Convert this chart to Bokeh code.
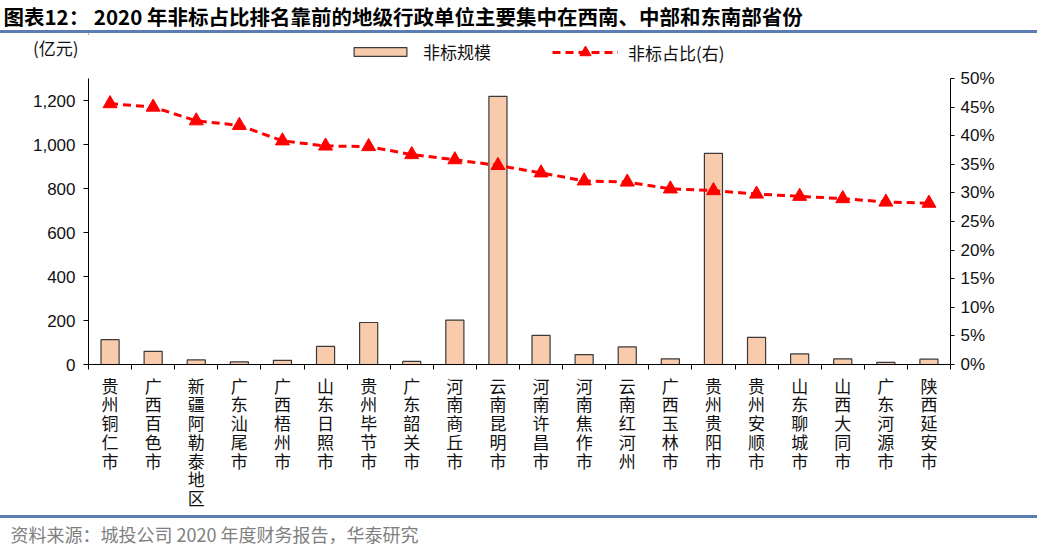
from bokeh.plotting import figure
from bokeh.layouts import column
from bokeh.models import (Range1d, LinearAxis, SingleIntervalTicker, FixedTicker,
                          NumeralTickFormatter, PrintfTickFormatter, Legend, LegendItem,
                          ColumnDataSource, Spacer)
from bokeh.embed import file_html
from bokeh.resources import INLINE

cities = ["贵州铜仁市", "广西百色市", "新疆阿勒泰地区", "广东汕尾市", "广西梧州市",
          "山东日照市", "贵州毕节市", "广东韶关市", "河南商丘市", "云南昆明市",
          "河南许昌市", "河南焦作市", "云南红河州", "广西玉林市", "贵州贵阳市",
          "贵州安顺市", "山东聊城市", "山西大同市", "广东河源市", "陕西延安市"]
scale = [113, 60, 21, 12, 19, 82, 191, 14, 202, 1219,
         132, 45, 80, 26, 960, 123, 48, 26, 10, 24]
ratio = [45.6, 45.0, 42.6, 41.8, 39.1, 38.2, 38.1, 36.7, 35.8, 34.8,
         33.5, 32.1, 31.9, 30.7, 30.4, 29.8, 29.4, 29.0, 28.4, 28.2]
left_ticks_interval = 200
right_ticks_interval = 5

TITLE = "图表12： 2020 年非标占比排名靠前的地级行政单位主要集中在西南、中部和东南部省份"
SOURCE = "资料来源：城投公司 2020 年度财务报告，华泰研究"
UNIT = "(亿元)"
SERIES = ["非标规模", "非标占比(右)"]

FONT = "Noto Sans CJK SC"
NUMF = "Liberation Sans"
BAR_FILL = "#F8CBAD"
BAR_LINE = "#3A3A3A"
RED = "#FF0000"
RULE = "#5B7DB3"

W = 1037


def strip(height, title=None, y_axis=False):
    f = figure(width=W, height=height, output_backend="svg", toolbar_location=None,
               x_axis_type=None, y_axis_type=("linear" if y_axis else None), title=title,
               x_range=Range1d(0, 1), y_range=Range1d(height, 0),
               min_border=0, min_border_left=0, min_border_right=0,
               min_border_top=0, min_border_bottom=0)
    f.outline_line_color = None
    f.grid.visible = False
    if title is not None:
        f.title.align = "left"
        f.title.standoff = 0
        f.title.text_font = FONT
    return f


def rule():
    return Spacer(width=W, height=3, styles={"background-color": RULE})


def legend_box(items, x, y, glyph_h):
    return Legend(items=items, orientation="horizontal", location=(x, y),
                  glyph_width=66, glyph_height=glyph_h, label_standoff=10,
                  padding=0, margin=0, border_line_color=None,
                  background_fill_alpha=0,
                  label_text_font=FONT, label_text_font_size="17px",
                  label_text_color="#111111")


# ---------------- title strip ----------------
head = strip(30, TITLE)
head.title.offset = -85
head.title.text_font_size = "20.5px"
head.title.text_font_style = "bold"
head.title.text_color = "#000000"

# ---------------- unit + legend strip ----------------
H_LEG = 33
leg = strip(H_LEG, y_axis=True)
la = leg.yaxis[0]
la.ticker = FixedTicker(ticks=[14])
la.major_label_overrides = {14: UNIT}
la.axis_line_color = None
la.major_tick_line_color = None
la.minor_tick_line_color = None
la.major_tick_out = 0
la.major_label_standoff = 10
la.major_label_text_font = FONT
la.major_label_text_font_size = "17px"
la.major_label_text_color = "#111111"
# legend proxies (kept outside the visible x range of this strip)
px_bar = leg.vbar(x=[-5], top=[1], width=0.1, fill_color=BAR_FILL,
                  line_color=BAR_LINE, line_width=1.2)
px_line = leg.line(x=[-6, -5], y=[1, 1], line_color=RED, line_width=3, line_dash="8 5")
px_mk = leg.scatter(x=[-5], y=[1], marker="triangle", size=12, fill_color=RED,
                    line_color=RED)
leg.add_layout(legend_box([LegendItem(label=SERIES[0], renderers=[px_bar])],
                          259, 2, 11), "center")
leg.add_layout(legend_box([LegendItem(label=SERIES[1], renderers=[px_line, px_mk])],
                          464, 0, 28), "center")

# ---------------- main chart ----------------
idx = list(range(len(cities)))
src = ColumnDataSource(dict(x=idx, scale=scale, ratio=ratio))

H_MAIN = 449
TOP = 12
fig = figure(width=W, height=H_MAIN, output_backend="svg", toolbar_location=None,
             x_range=Range1d(-0.5, len(cities) - 0.5), y_range=Range1d(0, 1300),
             min_border_left=88, min_border_right=87, min_border_top=TOP,
             min_border_bottom=H_MAIN - TOP - 286)
fig.outline_line_color = None
fig.xgrid.visible = False
fig.ygrid.visible = False
fig.extra_y_ranges = {"pct": Range1d(0, 50)}

fig.vbar(x="x", top="scale", width=0.42, source=src,
         fill_color=BAR_FILL, line_color=BAR_LINE, line_width=1.2)
fig.line(x="x", y="ratio", source=src, y_range_name="pct",
         line_color=RED, line_width=3, line_dash="8 5")
fig.scatter(x="x", y="ratio", source=src, y_range_name="pct", marker="triangle",
            size=14, fill_color=RED, line_color=RED)

xa = fig.xaxis[0]
xa.ticker = FixedTicker(ticks=idx, minor_ticks=[i - 0.5 for i in range(len(cities) + 1)])
xa.major_label_overrides = {i: "\n".join(list(c)) for i, c in enumerate(cities)}
xa.major_tick_line_color = None
xa.major_tick_out = 5
xa.major_label_standoff = 3
xa.minor_tick_line_color = "black"
xa.minor_tick_out = 5
xa.minor_tick_in = 0
xa.axis_line_color = "black"
xa.major_label_text_font = FONT
xa.major_label_text_font_size = "17px"
xa.major_label_text_color = "#111111"
xa.major_label_text_line_height = 0.75

ya = fig.yaxis[0]
ya.ticker = SingleIntervalTicker(interval=left_ticks_interval, num_minor_ticks=0)
ya.formatter = NumeralTickFormatter(format="0,0")
ya.major_tick_out = 5
ya.major_tick_in = 0
ya.minor_tick_line_color = None
ya.axis_line_color = "black"
ya.major_label_text_font = NUMF
ya.major_label_text_font_size = "17px"
ya.major_label_text_color = "#111111"
ya.major_label_standoff = 8

ra = LinearAxis(y_range_name="pct",
                ticker=SingleIntervalTicker(interval=right_ticks_interval, num_minor_ticks=0),
                formatter=PrintfTickFormatter(format="%d%%"))
ra.major_tick_out = 4
ra.major_tick_in = 0
ra.minor_tick_line_color = None
ra.axis_line_color = "black"
ra.major_label_text_font = NUMF
ra.major_label_text_font_size = "17px"
ra.major_label_text_color = "#111111"
ra.major_label_standoff = 6
fig.add_layout(ra, "right")

# ---------------- footer ----------------
foot = strip(30, SOURCE)
foot.title.offset = -78
foot.title.text_font_size = "18px"
foot.title.text_font_style = "normal"
foot.title.text_color = "#7F7F7F"

p = column(head, rule(), leg, fig, rule(), foot, spacing=0)
open("out.html", "w").write(file_html(p, INLINE))
